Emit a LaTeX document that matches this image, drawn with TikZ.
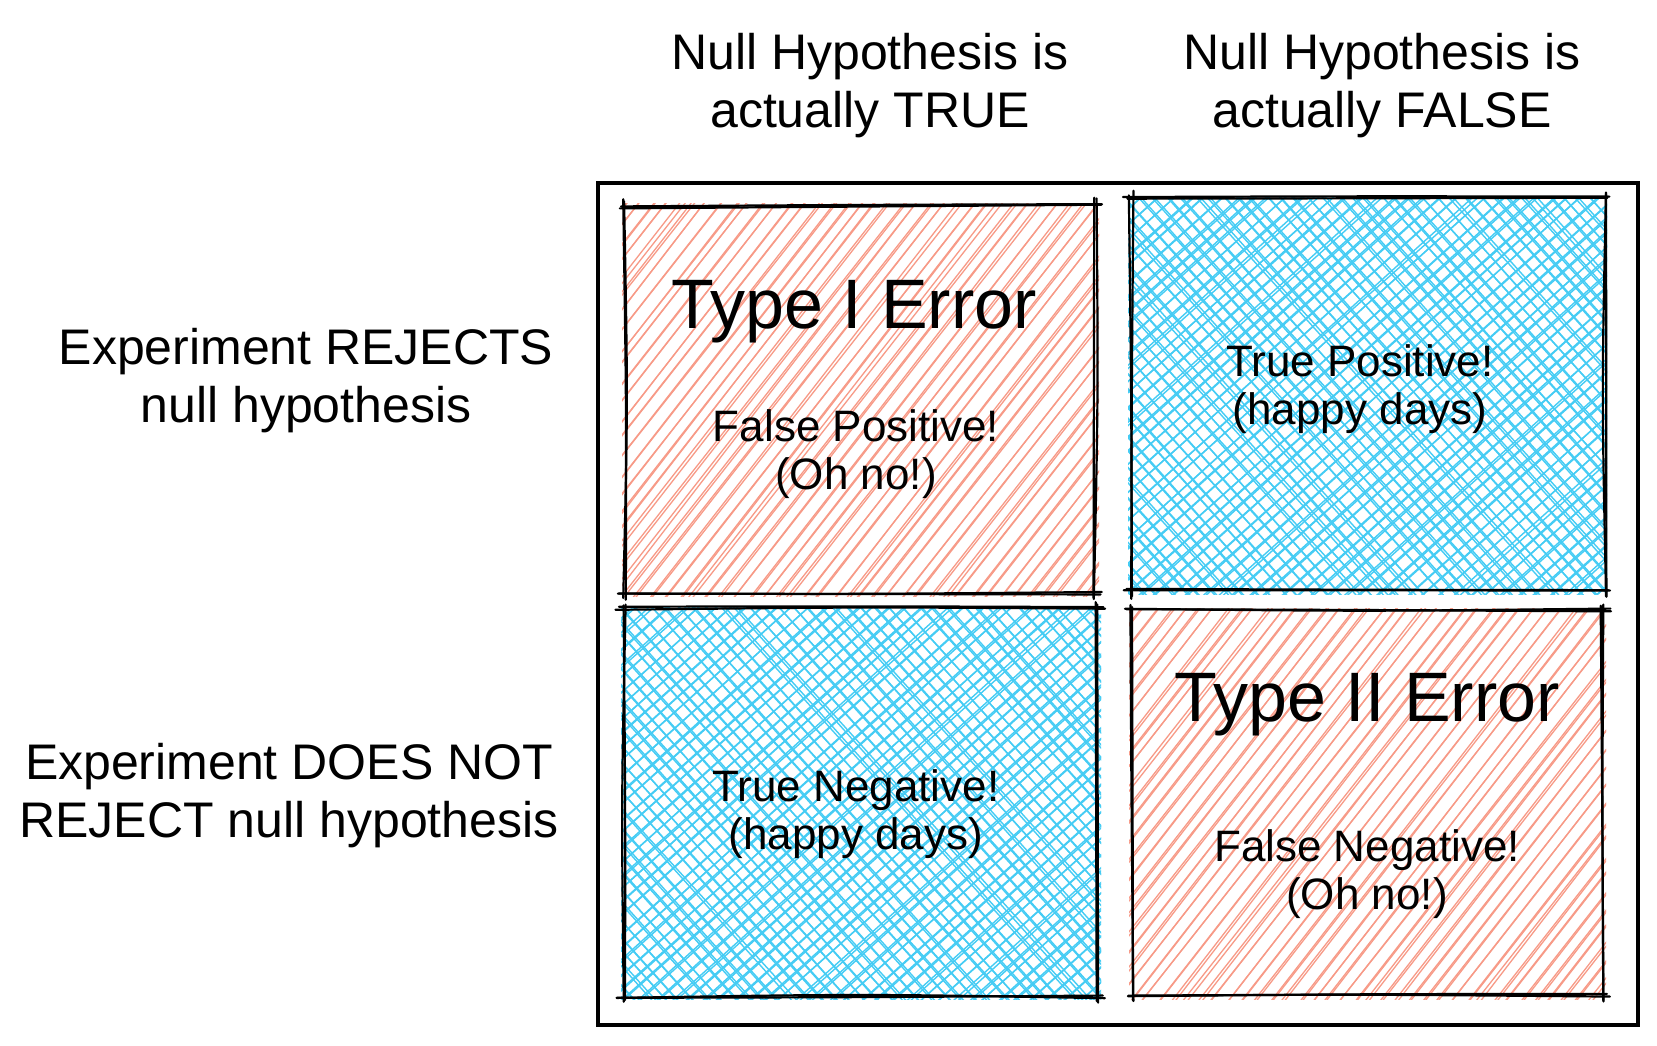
\documentclass[tikz,border=0pt]{standalone}
\usepackage{fontspec}
\setmainfont{Liberation Sans}

\definecolor{hatchRed}{HTML}{F79A87}
\definecolor{hatchBlue}{HTML}{45CCF4}

% One family of parallel hachure lines inside the box (#1,#2)-(#3,#4)
% #5 angle from horizontal, #6 perpendicular gap, #7 +1 rising / -1 falling, #8 style
\newcommand\hatchset[8]{%
  \pgfmathsetmacro\hH{#4-#2+20}%
  \pgfmathsetmacro\hD{\hH*cot(#5)}%
  \pgfmathsetmacro\hS{#6/sin(#5)}%
  \pgfmathtruncatemacro\hN{(#3-#1+\hD+20)/\hS}%
  \foreach \i in {0,...,\hN}{%
    \pgfmathsetmacro\hx{#1-\hD-10+\i*\hS+rand*2.5}%
    \ifnum#7>0
      \draw[#8] ({\hx+2*rand},{#4+10}) -- ({\hx+\hD+2*rand},{#2-10});
      \draw[#8] ({\hx+1+3*rand},{#4+10}) -- ({\hx+\hD+1+3*rand},{#2-10});
    \else
      \draw[#8] ({\hx+2*rand},{#2-10}) -- ({\hx+\hD+2*rand},{#4+10});
      \draw[#8] ({\hx+1+3*rand},{#2-10}) -- ({\hx+\hD+1+3*rand},{#4+10});
    \fi
  }%
}

% Pair of hand-drawn strokes between two points
\newcommand\sketchline[4]{%
  \foreach \s in {1,2}{%
    \draw[ink] ({#1+2.5*rand},{#2+2.5*rand})
      .. controls ({(#1+#3)/2+3*rand},{(#2+#4)/2+3*rand}) ..
      ({#3+2.5*rand},{#4+2.5*rand});
  }%
}

% Sketchy rectangle outline with overshooting corners
\newcommand\sketchbox[4]{%
  \sketchline{#1-6}{#2}{#3+6}{#2}%
  \sketchline{#3}{#2-6}{#3}{#4+6}%
  \sketchline{#3+6}{#4}{#1-6}{#4}%
  \sketchline{#1}{#4+6}{#1}{#2-6}%
}

\begin{document}
\begin{tikzpicture}[x=0.5pt,y=-0.5pt,
  ink/.style={draw=black,line width=1.1pt,line cap=round},
  frame/.style={draw=black,line width=1.6pt},
  hred/.style={draw=hatchRed,line width=0.65pt,line cap=round},
  hblue/.style={draw=hatchBlue,line width=0.7pt,line cap=round},
  head/.style={font=\fontsize{25}{29}\selectfont,align=center,anchor=base},
  title/.style={font=\fontsize{35}{40}\selectfont,anchor=base},
  body/.style={font=\fontsize{22}{24}\selectfont,align=center,anchor=base}]
\pgfmathsetseed{7}
\useasboundingbox (0,0) rectangle (1657,1045);

% quadrant fills
\begin{scope}
  \clip (622,203) rectangle (1099,596);
  \hatchset{625}{206}{1096}{593}{52}{11}{1}{hred}
\end{scope}
\begin{scope}
  \clip (1128,196) rectangle (1607,594);
  \hatchset{1131}{199}{1604}{591}{42}{10.5}{1}{hblue}
  \hatchset{1131}{199}{1604}{591}{48}{10.5}{-1}{hblue}
\end{scope}
\begin{scope}
  \clip (621,606) rectangle (1101,999);
  \hatchset{624}{609}{1098}{996}{42}{10.5}{1}{hblue}
  \hatchset{624}{609}{1098}{996}{48}{10.5}{-1}{hblue}
\end{scope}
\begin{scope}
  \clip (1129,608) rectangle (1606,999);
  \hatchset{1132}{611}{1603}{996}{52}{11}{1}{hred}
\end{scope}

% quadrant outlines
\sketchbox{625}{206}{1096}{593}
\sketchbox{1131}{199}{1604}{591}
\sketchbox{624}{609}{1098}{996}
\sketchbox{1132}{611}{1603}{996}

% outer frame
\draw[frame] (598,183) rectangle (1638,1025);

% column headings (anchored at the baseline of the last line)
\node[head] (colT) at (870,127) {Null Hypothesis is\\actually TRUE};
\node[head] (colF) at (1382,127) {Null Hypothesis is\\actually FALSE};

% row headings
\node[head] (rowR) at (306,422) {Experiment REJECTS\\null hypothesis};
\node[head] (rowN) at (289,837) {Experiment DOES NOT\\REJECT null hypothesis};

% quadrant texts
\node[title] (t1) at (854,328) {Type I Error};
\node[body] (fp) at (856,489) {False Positive!\\(Oh no!)};
\node[body] (tp) at (1360,424) {True Positive!\\(happy days)};
\node[body] (tn) at (856,849) {True Negative!\\(happy days)};
\node[title] (t2) at (1367,721) {Type II Error};
\node[body] (fn) at (1367,909) {False Negative!\\(Oh no!)};
\end{tikzpicture}
\end{document}
